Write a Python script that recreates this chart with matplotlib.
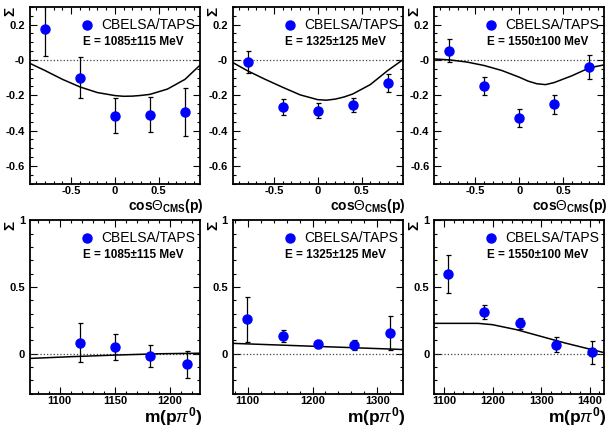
import matplotlib
matplotlib.use('Agg')
import matplotlib.pyplot as plt
from matplotlib.ticker import MultipleLocator

plt.rcParams['font.family'] = ['Liberation Sans', 'DejaVu Sans']
plt.rcParams['mathtext.fontset'] = 'custom'
plt.rcParams['mathtext.rm'] = 'Liberation Sans'
plt.rcParams['mathtext.bf'] = 'Liberation Sans:bold'
plt.rcParams['mathtext.it'] = 'Liberation Sans:italic'

# beam energy bins
energy_labels = ['E = 1085\u00b1115 MeV', 'E = 1325\u00b1125 MeV', 'E = 1550\u00b1100 MeV']

# top row: Sigma vs cos(theta_cms) of the proton
cos_x = [-0.8, -0.4, 0.0, 0.4, 0.8]
cos_sig = [
    [0.175, -0.10, -0.316, -0.31, -0.295],
    [-0.01, -0.266, -0.287, -0.257, -0.129],
    [0.053, -0.148, -0.33, -0.252, -0.04],
]
cos_err = [
    [0.155, 0.117, 0.10, 0.10, 0.135],
    [0.062, 0.047, 0.042, 0.039, 0.05],
    [0.063, 0.051, 0.05, 0.055, 0.068],
]
cos_model_x = [-0.97, -0.8, -0.6, -0.4, -0.2, 0.0, 0.1, 0.2, 0.3, 0.4, 0.6, 0.8, 0.97]
cos_model = [
    [-0.02, -0.06, -0.11, -0.153, -0.185, -0.202, -0.206, -0.205, -0.201, -0.195, -0.165, -0.11, -0.03],
    [-0.015, -0.062, -0.11, -0.155, -0.198, -0.225, -0.228, -0.222, -0.21, -0.193, -0.14, -0.06, 0.0],
    [0.005, 0.0, -0.012, -0.032, -0.06, -0.098, -0.12, -0.135, -0.14, -0.128, -0.09, -0.045, -0.028],
]

# bottom row: Sigma vs m(p pi0)
m_x = [
    [1118, 1150, 1182, 1215],
    [1099, 1154, 1209, 1264, 1319],
    [1109, 1183, 1257, 1331, 1404],
]
m_sig = [
    [0.083, 0.051, -0.017, -0.079],
    [0.257, 0.132, 0.073, 0.066, 0.157],
    [0.598, 0.313, 0.228, 0.066, 0.012],
]
m_err = [
    [0.145, 0.10, 0.082, 0.10],
    [0.166, 0.047, 0.03, 0.036, 0.127],
    [0.14, 0.052, 0.043, 0.056, 0.086],
]
m_model_x = [
    [1073, 1110, 1150, 1190, 1227],
    [1077, 1339],
    [1080, 1170, 1200, 1250, 1300, 1350, 1400, 1430],
]
m_model = [
    [-0.035, -0.022, -0.01, 0.0, 0.004],
    [0.078, 0.032],
    [0.228, 0.228, 0.218, 0.18, 0.13, 0.08, 0.035, 0.008],
]
m_xlims = [(1073, 1227), (1077, 1339), (1080, 1430)]
m_major = [50, 100, 100]
m_minor = [10, 20, 20]

top_ticks = [-0.6, -0.4, -0.2, 0.0, 0.2]
top_ticklabels = ['-0.6', '-0.4', '-0.2', '-0', '0.2']

fig = plt.figure(figsize=(6.07, 4.28), dpi=100)
lefts = [0.0494, 0.3834, 0.7155]
width = 0.280


def style_axes(ax):
    for s in ax.spines.values():
        s.set_linewidth(1.3)
    ax.tick_params(which='both', direction='in', top=True, right=True,
                   labelsize=8, width=0.8)
    ax.tick_params(which='major', length=5)
    ax.tick_params(which='minor', length=2.5)
    ax.tick_params(axis='x', pad=1.5)
    for lab in ax.get_xticklabels() + ax.get_yticklabels():
        lab.set_fontweight('bold')
    ax.text(-0.115, 1.0, '\u03a3', transform=ax.transAxes, rotation=90,
            fontsize=11, fontweight='bold', ha='center', va='top')


def draw_legend(ax, label):
    ax.plot([0.335], [0.898], 'o', color='#0000ff', markersize=6.5,
            transform=ax.transAxes)
    ax.text(0.42, 0.898, 'CBELSA/TAPS', transform=ax.transAxes,
            fontsize=10, va='center', ha='left')
    ax.text(0.31, 0.80, label, transform=ax.transAxes,
            fontsize=8.5, fontweight='bold', va='center', ha='left')


for i in range(3):
    ax = fig.add_axes([lefts[i], 0.571, width, 0.413])
    ax.axhline(0, color='0.25', linestyle=':', linewidth=0.9)
    ax.plot(cos_model_x, cos_model[i], color='black', linewidth=1.1)
    ax.errorbar(cos_x, cos_sig[i], yerr=cos_err[i], fmt='o', color='#0000ff',
                markersize=6.5, ecolor='black', elinewidth=0.9, capsize=1.8,
                capthick=0.9)
    ax.set_xlim(-0.97, 0.97)
    ax.set_ylim(-0.7, 0.3)
    ax.set_xticks([-0.5, 0, 0.5])
    ax.set_xticklabels(['-0.5', '0', '0.5'])
    ax.xaxis.set_minor_locator(MultipleLocator(0.1))
    ax.set_yticks(top_ticks)
    ax.set_yticklabels(top_ticklabels)
    ax.yaxis.set_minor_locator(MultipleLocator(0.05))
    style_axes(ax)
    draw_legend(ax, energy_labels[i])
    ax.text(1.02, -0.15, r'$\mathbf{cos}\Theta_{\mathbf{CMS}}\mathbf{(p)}$',
            transform=ax.transAxes, fontsize=10, ha='right', va='baseline')

    ax = fig.add_axes([lefts[i], 0.08, width, 0.405])
    ax.axhline(0, color='0.25', linestyle=':', linewidth=0.9)
    ax.plot(m_model_x[i], m_model[i], color='black', linewidth=1.1)
    ax.errorbar(m_x[i], m_sig[i], yerr=m_err[i], fmt='o', color='#0000ff',
                markersize=6.5, ecolor='black', elinewidth=0.9, capsize=1.8,
                capthick=0.9)
    ax.set_xlim(*m_xlims[i])
    ax.set_ylim(-0.3, 1.0)
    ax.xaxis.set_major_locator(MultipleLocator(m_major[i]))
    ax.xaxis.set_minor_locator(MultipleLocator(m_minor[i]))
    ax.set_yticks([0, 0.5, 1])
    ax.set_yticklabels(['0', '0.5', '1'])
    ax.yaxis.set_minor_locator(MultipleLocator(0.1))
    style_axes(ax)
    draw_legend(ax, energy_labels[i])
    fig.text(lefts[i] + width + 0.004, 0.012, r'$\mathbf{m(p}\pi^{\mathbf{0}}\mathbf{)}$',
             fontsize=12.5, ha='right', va='baseline')

fig.savefig('out.png', dpi=100)
